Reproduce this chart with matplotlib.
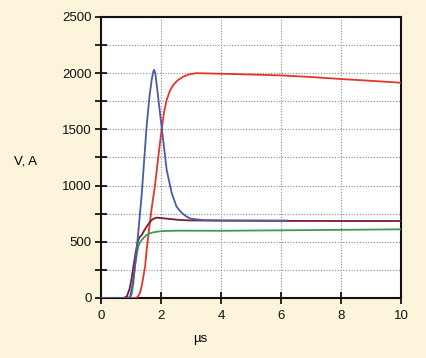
import matplotlib
matplotlib.use('Agg')
import matplotlib.pyplot as plt
from matplotlib.ticker import MultipleLocator

# values (time in microseconds)
blue_t = [0, 0.75, 0.9, 0.97, 1.05, 1.13, 1.24, 1.36, 1.52, 1.62, 1.69, 1.74, 1.77, 1.81, 1.9,
          2.02, 2.19, 2.36, 2.52, 2.7, 2.86, 3.0, 3.4, 4.0, 5.0, 6.2]
blue_v = [0, 0, 0, 10, 120, 278, 575, 930, 1524, 1800, 1940, 2010, 2030, 2000, 1800,
          1524, 1139, 931, 812, 755, 723, 705, 693, 690, 689, 689]

red_t = [0, 1.15, 1.22, 1.3, 1.36, 1.42, 1.47, 1.52, 1.58, 1.69, 1.8, 1.86, 1.94, 2.02, 2.1,
         2.19, 2.3, 2.41, 2.55, 2.74, 2.95, 3.19, 4.0, 5.0, 6.0, 7.0, 8.0, 9.0, 10.0]
red_v = [0, 0, 10, 44, 110, 200, 278, 420, 560, 800, 1000, 1139, 1320, 1495, 1650,
         1762, 1845, 1895, 1935, 1969, 1990, 2000, 1995, 1988, 1980, 1966, 1948, 1932, 1915]

maroon_t = [0, 0.75, 0.86, 0.95, 1.02, 1.08, 1.16, 1.24, 1.3, 1.36, 1.44, 1.52, 1.6, 1.69,
            1.78, 1.86, 2.08, 2.4, 2.63, 3.0, 4.0, 6.0, 8.0, 10.0]
maroon_v = [0, 0, 12, 80, 170, 278, 410, 516, 545, 560, 600, 634, 665, 694,
            708, 715, 709, 700, 694, 690, 688, 686, 685, 685]

green_t = [0, 0.85, 0.96, 1.02, 1.08, 1.13, 1.19, 1.24, 1.3, 1.36, 1.44, 1.52, 1.62, 1.74,
           1.9, 2.08, 2.63, 4.0, 5.0, 7.0, 10.0]
green_v = [0, 0, 5, 30, 130, 278, 380, 456, 495, 516, 540, 560, 574, 584,
           591, 596, 599, 598, 600, 604, 611]

bg = '#fcf5dc'
font = 'Liberation Sans'

fig = plt.figure(figsize=(4.27, 3.58), dpi=100, facecolor=bg)
ax = fig.add_axes([0.2365, 0.1676, 0.7025, 0.785])
ax.set_facecolor('white')

ax.plot(red_t, red_v, color='#e5352b', lw=1.3, zorder=3)
ax.plot(blue_t, blue_v, color='#4a5aa8', lw=1.3, zorder=4)
ax.plot(green_t, green_v, color='#3d9a52', lw=1.3, zorder=3)
ax.plot(maroon_t, maroon_v, color='#7a1c2c', lw=1.3, zorder=3)

ax.set_xlim(0, 10)
ax.set_ylim(0, 2500)
ax.xaxis.set_major_locator(MultipleLocator(2))
ax.yaxis.set_major_locator(MultipleLocator(500))
ax.yaxis.set_minor_locator(MultipleLocator(250))
ax.grid(True, which='both', axis='y', ls=(0, (1, 1.5)), color='#8a8a8a', lw=0.8)
ax.grid(True, which='major', axis='x', ls=(0, (1, 1.5)), color='#8a8a8a', lw=0.8)

for s in ax.spines.values():
    s.set_color('#111111')
    s.set_linewidth(1.5)

ax.tick_params(axis='y', which='both', direction='inout', length=9, width=1.2, labelsize=9.5, pad=2)
ax.tick_params(axis='x', which='major', direction='inout', length=9, width=1.2, labelsize=9.5, pad=4)
for lab in ax.get_xticklabels() + ax.get_yticklabels():
    lab.set_family(font)
    lab.set_color('#111111')

fig.text(0.06, 1 - 162 / 358, 'V, A', ha='center', va='center', fontsize=9.5, family=font)
fig.text(200 / 427, 1 - 339 / 358, 'µs', ha='center', va='center', fontsize=9.5, family=font)

fig.savefig('out.png', dpi=100, facecolor=bg)
